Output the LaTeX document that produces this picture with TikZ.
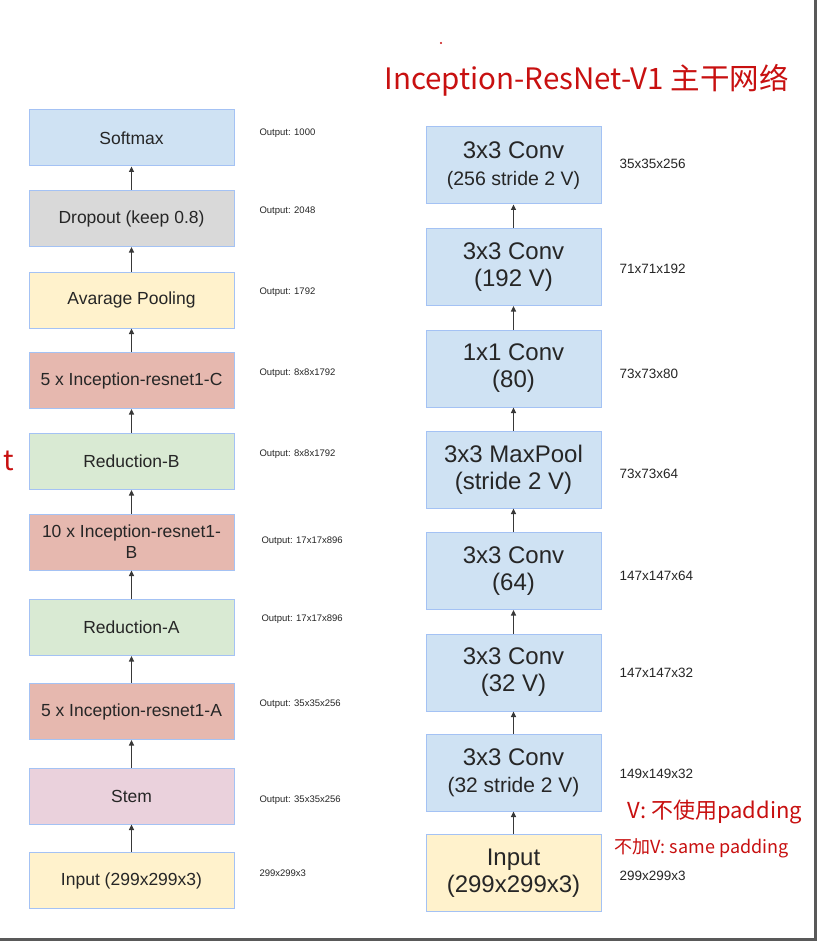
\documentclass[tikz,border=0pt]{standalone}
\usepackage{fontspec}
\setmainfont{Liberation Sans}
\newfontfamily\cjk{Noto Sans CJK SC}
\usepackage{xcolor}
\usepackage{tikz}
\usetikzlibrary{
  arrows.meta,
  positioning
}
\definecolor{xblue}{HTML}{CFE2F3}
\definecolor{xgray}{HTML}{D9D9D9}
\definecolor{xcream}{HTML}{FFF2CC}
\definecolor{xrose}{HTML}{E6B8AF}
\definecolor{xmint}{HTML}{D9EAD3}
\definecolor{xpink}{HTML}{EAD1DC}
\definecolor{xedge}{HTML}{A4C2F4}
\definecolor{xink}{HTML}{262626}
\definecolor{xred}{RGB}{200,16,16}

\begin{document}
\begin{tikzpicture}[
  x=1pt, y=-1pt,
  layer/.style={draw=xedge, fill=#1, line width=1pt,
                minimum width=205pt, minimum height=56pt, inner sep=0pt,
                align=center, text=xink, font=\fontsize{17.5}{21}\selectfont},
  conv/.style={draw=xedge, fill=#1, line width=1pt,
               minimum width=175pt, minimum height=77pt, inner sep=0pt,
               align=center, text=xink, font=\fontsize{24}{27}\selectfont},
  arr/.style={-{Triangle[length=5.5pt,width=5pt]}, line width=1.5pt, color=black!78},
  outl/.style={anchor=west, text=xink, font=\fontsize{9.5}{11}\selectfont},
  dim/.style={anchor=west, text=xink, font=\fontsize{13.5}{16}\selectfont},
  note/.style={anchor=west, text=xred, font=\cjk\fontsize{#1}{#1}\selectfont}
]
  \useasboundingbox[fill=white] (0,0) rectangle (818,941);

  % left column: whole network
  \node[layer=xblue]  (sm)  at (131.5,138)   {Softmax};
  \node[layer=xgray]  (dp)  at (131.5,218.5) {Dropout (keep 0.8)};
  \node[layer=xcream] (ap)  at (131.5,300)   {Avarage Pooling};
  \node[layer=xrose]  (ic)  at (131.5,380.5) {5 x Inception-resnet1-C};
  \node[layer=xmint]  (rb)  at (131.5,461.5) {Reduction-B};
  \node[layer=xrose]  (ib)  at (131.5,542)   {10 x Inception-resnet1-\\B};
  \node[layer=xmint]  (ra)  at (131.5,627.5) {Reduction-A};
  \node[layer=xrose]  (ia)  at (131.5,711.5) {5 x Inception-resnet1-A};
  \node[layer=xpink]  (st)  at (131.5,796)   {Stem};
  \node[layer=xcream] (inl) at (131.5,880.5) {Input (299x299x3)};

  \foreach \from/\to in {inl/st, st/ia, ia/ra, ra/ib, ib/rb, rb/ic, ic/ap, ap/dp, dp/sm}{
    \draw[arr] (\from.north) -- (\to.south);
  }

  \node[outl] (osm) at (256,133) {Output: 1000};
  \node[outl] (odp) at (256,211) {Output: 2048};
  \node[outl] (oap) at (256,292) {Output: 1792};
  \node[outl] (oic) at (256,373) {Output: 8x8x1792};
  \node[outl] (orb) at (256,454) {Output: 8x8x1792};
  \node[outl] (oib) at (258,541) {Output: 17x17x896};
  \node[outl] (ora) at (258,619) {Output: 17x17x896};
  \node[outl] (oia) at (256,704) {Output: 35x35x256};
  \node[outl] (ost) at (256,800) {Output: 35x35x256};
  \node[outl] (oin) at (256,873) {299x299x3};

  % right column: stem
  \node[conv=xblue]  (c1)  at (513.5,165.5) {3x3 Conv\\{\fontsize{19.5}{27}\selectfont(256 stride 2 V)}};
  \node[conv=xblue]  (c2)  at (513.5,267)   {3x3 Conv\\(192 V)};
  \node[conv=xblue]  (c3)  at (513.5,368.5) {1x1 Conv\\(80)};
  \node[conv=xblue]  (c4)  at (513.5,469.5) {3x3 MaxPool\\(stride 2 V)};
  \node[conv=xblue]  (c5)  at (513.5,571)   {3x3 Conv\\(64)};
  \node[conv=xblue]  (c6)  at (513.5,672.5) {3x3 Conv\\(32 V)};
  \node[conv=xblue]  (c7)  at (513.5,772.5) {3x3 Conv\\{\fontsize{21}{27}\selectfont(32 stride 2 V)}};
  \node[conv=xcream] (inr) at (513.5,873)   {Input\\(299x299x3)};

  \foreach \from/\to in {inr/c7, c7/c6, c6/c5, c5/c4, c4/c3, c3/c2, c2/c1}{
    \draw[arr] (\from.north) -- (\to.south);
  }

  \node[dim] (d1) at (616,164) {35x35x256};
  \node[dim] (d2) at (616,269) {71x71x192};
  \node[dim] (d3) at (616,374) {73x73x80};
  \node[dim] (d4) at (616,474) {73x73x64};
  \node[dim] (d5) at (616,576) {147x147x64};
  \node[dim] (d6) at (616,673) {147x147x32};
  \node[dim] (d7) at (616,774) {149x149x32};
  \node[dim] (d8) at (616,876) {299x299x3};

  % handwritten notes
  \fill[xred] (441,43) circle (1.2);
  \node[note=29.5] (title) at (381,80) {Inception-ResNet-V1 主干网络};
  \node[note=28, anchor=east] (cut) at (18,461) {t};
  \node[note=22] (vnote) at (624,812) {V: 不使用padding};
  \node[note=18] (snote) at (611,848) {不加V: same padding};

  % screenshot frame
  \draw[line width=3pt, black!65] (815,0) -- (815,939) -- (0,939);
\end{tikzpicture}
\end{document}
